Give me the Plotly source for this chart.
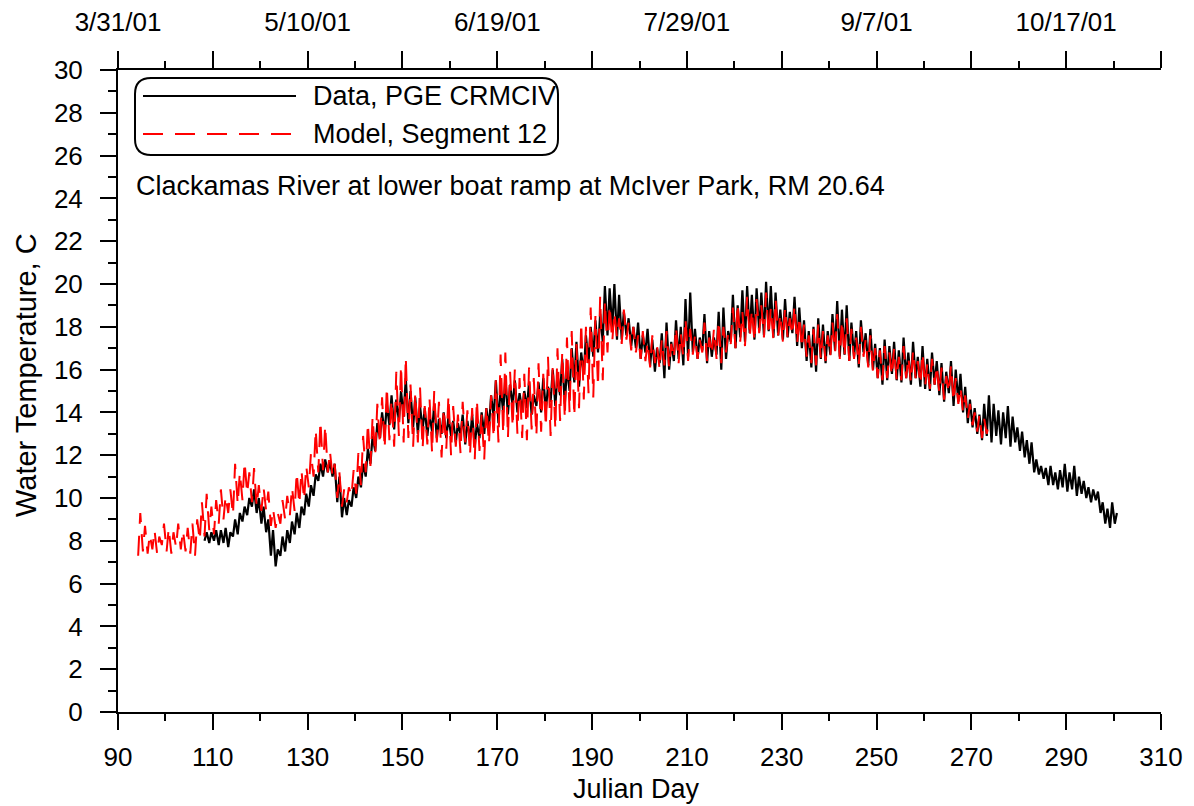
import plotly.graph_objects as go

data_days = list(range(108, 301))
data_min = [
    8.0, 7.9, 8.0, 7.8, 7.9, 7.7, 8.2, 8.3, 8.9, 9.2,            # 108-117
    9.6, 9.3, 8.8, 8.4, 7.3, 6.8, 7.3, 7.5, 7.9, 8.3,            # 118-127
    8.6, 9.2, 9.6, 10.1, 10.8, 11.0, 11.2, 11.0, 9.8, 9.1,       # 128-137
    9.2, 9.6, 10.0, 10.5, 11.0, 11.6, 12.2, 12.8, 13.0, 13.4,    # 138-147
    13.2, 13.6, 13.8, 13.5, 13.3, 13.0, 13.2, 12.9, 13.1, 12.8,  # 148-157
    13.0, 12.8, 12.9, 12.6, 12.9, 12.5, 12.7, 12.4, 12.8, 13.0,  # 158-167
    13.3, 13.8, 13.5, 14.0, 13.9, 14.3, 14.0, 14.1, 14.2, 13.9,  # 168-177
    14.3, 14.0, 14.1, 14.5, 14.3, 14.8, 14.4, 15.0, 15.4, 15.2,  # 178-187
    15.8, 16.3, 16.6, 16.8, 17.3, 17.6, 17.9, 17.4, 17.4, 17.6,  # 188-197
    17.1, 17.0, 16.5, 16.8, 16.2, 15.9, 16.3, 15.6, 16.0, 16.4,  # 198-207
    16.5, 16.2, 16.6, 16.8, 16.5, 16.9, 16.3, 16.6, 16.7, 16.0,  # 208-217
    16.5, 17.3, 17.0, 17.5, 17.3, 17.7, 17.4, 17.8, 17.6, 17.8,  # 218-227
    17.5, 17.6, 17.4, 17.5, 17.7, 17.1, 17.0, 16.4, 16.1, 15.9,  # 228-237
    16.5, 16.3, 16.7, 16.9, 16.6, 16.7, 16.4, 16.6, 16.1, 16.8,  # 238-247
    16.2, 16.0, 15.6, 15.3, 15.5, 15.8, 15.5, 15.4, 15.6, 15.3,  # 248-257
    15.6, 15.2, 15.1, 15.0, 15.3, 14.8, 14.5, 14.9, 14.3, 14.5,  # 258-267
    14.0, 13.5, 13.3, 13.0, 12.7, 12.9, 12.6, 12.9, 12.5, 12.8,  # 268-277
    12.4, 12.6, 12.2, 11.9, 11.6, 11.2, 11.1, 10.9, 10.6, 10.6,  # 278-287
    10.4, 10.5, 10.3, 10.4, 10.1, 10.2, 10.0, 9.8, 9.9, 9.3,     # 288-297
    8.8, 8.6, 8.8,                                               # 298-300
]
data_max = [
    8.4, 8.4, 8.5, 8.5, 8.6, 8.4, 9.0, 9.3, 9.6, 10.0,
    10.4, 10.0, 9.6, 9.0, 8.5, 7.6, 8.2, 8.5, 8.9, 9.3,
    9.6, 10.2, 10.6, 11.1, 11.6, 11.8, 11.7, 11.6, 11.0, 10.0,
    9.9, 10.5, 11.0, 11.6, 12.3, 12.9, 13.5, 14.0, 14.4, 14.8,
    14.6, 15.0, 15.6, 15.0, 14.7, 14.3, 14.2, 13.9, 14.4, 13.7,
    14.0, 13.8, 13.6, 13.5, 13.9, 13.6, 13.9, 13.5, 14.0, 14.2,
    14.8, 15.5, 15.2, 15.6, 15.3, 15.5, 14.9, 15.0, 15.4, 14.8,
    15.4, 15.6, 15.2, 16.0, 15.8, 16.5, 16.1, 17.0, 17.3, 16.8,
    17.6, 18.0, 18.3, 18.6, 19.9, 19.8, 20.0, 19.5, 18.7, 18.4,
    18.0, 18.2, 17.6, 17.9, 17.4, 17.0, 17.7, 18.2, 17.3, 18.3,
    18.0, 19.3, 19.6, 17.9, 17.5, 18.6, 17.8, 17.5, 18.7, 18.9,
    17.8, 19.5, 19.0, 19.7, 19.9, 19.5, 19.8, 19.6, 20.1, 19.9,
    19.6, 18.8, 19.3, 18.7, 19.4, 18.9, 18.3, 17.8, 18.0, 18.4,
    18.1, 17.8, 18.6, 19.2, 18.8, 19.0, 18.2, 17.8, 18.3, 17.7,
    17.9, 17.2, 17.0, 17.4, 17.1, 17.3, 16.9, 17.5, 16.8, 17.3,
    16.6, 17.1, 16.5, 16.8, 16.4, 16.3, 15.9, 16.4, 16.0, 15.8,
    15.2, 14.6, 14.2, 13.9, 14.4, 14.8, 14.4, 14.1, 14.0, 14.3,
    13.8, 13.3, 13.1, 12.7, 12.6, 11.8, 11.5, 11.4, 11.5, 11.2,
    11.3, 11.6, 11.2, 11.5, 11.0, 10.8, 10.5, 10.4, 10.3, 9.8,
    9.5, 9.8, 9.3,
]

# Model output, Segment 12, daily low / high
model_days = list(range(94, 274))
model_min = [
    7.3, 7.5, 7.4, 7.6, 7.4, 7.8, 7.5, 7.4, 7.7, 7.6,            # 94-103
    7.5, 7.4, 7.3, 8.0, 8.2, 8.5, 8.3, 8.8, 9.0, 9.3,            # 104-113
    9.2, 9.7, 9.9, 10.2, 9.8, 9.6, 9.4, 9.4, 8.7, 8.6,           # 114-123
    8.8, 9.0, 9.2, 9.4, 9.7, 9.9, 10.5, 11.0, 11.2, 11.3,        # 124-133
    11.2, 11.0, 10.0, 9.6, 9.8, 10.1, 10.2, 10.6, 11.2, 11.5,    # 134-143
    12.0, 12.5, 12.3, 12.7, 12.4, 12.9, 12.6, 12.8, 12.4, 12.6,  # 144-153
    12.3, 12.5, 12.1, 12.6, 11.9, 12.3, 12.0, 12.4, 12.1, 12.6,  # 154-163
    12.0, 11.8, 12.2, 11.8, 12.5, 12.8, 12.6, 13.0, 12.8, 13.3,  # 164-173
    13.0, 12.8, 12.7, 13.2, 12.9, 13.1, 13.3, 12.9, 13.2, 13.6,  # 174-183
    13.7, 14.0, 13.8, 14.2, 14.6, 14.9, 14.7, 15.2, 15.5, 16.8,  # 184-193
    17.3, 17.5, 17.2, 17.4, 16.9, 16.8, 16.5, 16.4, 16.1, 16.3,  # 194-203
    16.0, 16.2, 16.1, 16.5, 16.3, 16.6, 16.4, 16.7, 16.5, 16.8,  # 204-213
    16.4, 16.7, 16.5, 16.3, 16.8, 17.2, 17.0, 17.3, 17.1, 17.5,  # 214-223
    17.3, 17.7, 17.5, 17.6, 17.4, 17.6, 17.3, 17.5, 17.6, 17.2,  # 224-233
    17.0, 16.6, 16.3, 16.2, 16.5, 16.4, 16.6, 16.8, 16.5, 16.6,  # 234-243
    16.4, 16.5, 16.2, 16.6, 16.1, 15.9, 15.6, 15.5, 15.6, 15.7,  # 244-253
    15.5, 15.5, 15.6, 15.4, 15.6, 15.3, 15.2, 15.1, 15.3, 14.9,  # 254-263
    14.6, 14.9, 14.5, 14.4, 14.0, 13.7, 13.4, 13.1, 12.8, 13.0,  # 264-273
]
model_max = [
    9.3, 8.7, 8.3, 8.5, 8.2, 8.8, 8.6, 8.4, 8.8, 8.5,
    8.6, 8.8, 9.0, 9.8, 10.2, 9.6, 9.9, 10.4, 10.1, 10.4,
    11.6, 11.2, 11.7, 11.2, 11.4, 10.6, 10.5, 10.3, 9.5, 9.3,
    9.9, 10.1, 10.5, 11.2, 11.3, 11.5, 12.1, 13.2, 13.6, 13.4,
    12.2, 11.6, 11.2, 10.4, 10.5, 11.3, 12.1, 12.9, 13.5, 13.8,
    14.4, 14.7, 15.2, 14.6, 15.9, 16.2, 16.6, 15.3, 14.9, 15.2,
    14.3, 14.7, 15.0, 14.5, 14.2, 14.8, 14.3, 13.9, 14.5, 14.1,
    14.2, 14.6, 13.9, 14.3, 14.8, 15.5, 16.7, 16.8, 15.9, 16.0,
    15.6, 15.8, 16.1, 15.6, 16.3, 15.8, 16.6, 16.2, 17.0, 16.8,
    17.5, 17.8, 17.2, 18.2, 18.0, 18.9, 18.5, 19.4, 19.2, 19.0,
    18.7, 18.4, 18.8, 18.2, 18.0, 17.6, 17.8, 17.3, 17.6, 17.1,
    17.4, 17.8, 17.2, 18.0, 17.7, 18.4, 17.9, 17.6, 17.4, 18.2,
    17.5, 17.9, 18.3, 18.0, 17.7, 18.9, 19.1, 18.7, 19.4, 18.8,
    19.3, 19.0, 19.6, 18.9, 19.3, 18.6, 18.9, 18.4, 19.0, 18.5,
    18.1, 17.6, 17.9, 18.1, 17.8, 17.6, 18.2, 18.6, 18.3, 18.4,
    17.9, 17.5, 18.0, 17.4, 17.6, 17.0, 16.9, 17.1, 16.8, 17.0,
    16.6, 17.1, 16.6, 16.9, 16.4, 16.8, 16.3, 16.5, 16.2, 16.1,
    15.7, 16.2, 15.6, 15.2, 14.8, 14.4, 14.0, 13.9, 13.7, 13.5,
]

x_ticks = list(range(90, 311, 20))
y_ticks = list(range(0, 31, 2))
date_ticks = [90, 130, 170, 210, 250, 290]
date_labels = ["3/31/01", "5/10/01", "6/19/01", "7/29/01", "9/7/01", "10/17/01"]


def zigzag(days, lows, highs):
    # daily low in the early morning, high in the afternoon
    xs, ys = [], []
    for d, lo, hi in zip(days, lows, highs):
        xs += [d + 0.25, d + 0.7]
        ys += [lo, hi]
    return xs, ys


data_x, data_y = zigzag(data_days, data_min, data_max)
model_x, model_y = zigzag(model_days, model_min, model_max)

FONT = "Liberation Sans, Arial, sans-serif"
data_line = dict(color="black", width=2.2)
model_line = dict(color="#ff0000", width=2, dash="20px,12px")

fig = go.Figure()
fig.add_trace(go.Scatter(x=data_x, y=data_y, mode="lines", line=data_line,
                         name="Data, PGE CRMCIV", showlegend=False))
fig.add_trace(go.Scatter(x=model_x, y=model_y, mode="lines", line=model_line,
                         name="Model, Segment 12", showlegend=False))
# invisible copy so the top (date) axis gets drawn
fig.add_trace(go.Scatter(x=data_x, y=data_y, mode="lines", xaxis="x2",
                         line=dict(width=0), opacity=0, hoverinfo="skip",
                         showlegend=False))

axis_common = dict(showline=True, linecolor="black", linewidth=2, ticks="outside",
                   tickcolor="black", tickwidth=2, showgrid=False, zeroline=False,
                   automargin=False, tickfont=dict(size=26, color="black"))

# the page body adds an 8px margin, so the figure is 8px smaller than the window
fig.update_layout(
    width=1186, height=798,
    margin=dict(l=110, r=33, t=62, b=94),
    plot_bgcolor="white", paper_bgcolor="white",
    font=dict(family=FONT, size=26, color="black"),
    xaxis=dict(range=[90, 310], tickvals=x_ticks, ticklen=16,
               minor=dict(dtick=10, tick0=90, ticklen=7, ticks="outside",
                          tickcolor="black", tickwidth=2),
               ticklabelstandoff=5, **axis_common),
    xaxis2=dict(range=[90, 310], overlaying="x", side="top", anchor="y",
                tickvals=x_ticks,
                ticktext=[date_labels[date_ticks.index(v)] if v in date_ticks else ""
                          for v in x_ticks],
                ticklen=17,
                minor=dict(dtick=10, tick0=90, ticklen=7, ticks="outside",
                           tickcolor="black", tickwidth=2),
                ticklabelstandoff=10, **axis_common),
    yaxis=dict(range=[0, 30], tickvals=y_ticks, ticklen=16,
               minor=dict(dtick=1, tick0=0, ticklen=8, ticks="outside",
                          tickcolor="black", tickwidth=2),
               ticklabelstandoff=12, **axis_common),
)

# positions below are in pixels of the screenshot, converted to paper units
W, H = 1043.0, 642.0
def px(x):
    return (x - 118) / W
def py(y):
    return (712 - y) / H

# axis titles
fig.add_annotation(text="Julian Day", xref="paper", yref="paper",
                   x=px(636), y=py(789), xanchor="center", yanchor="middle",
                   showarrow=False, font=dict(size=27, color="black"))
fig.add_annotation(text="Water Temperature, C", xref="paper", yref="paper",
                   x=px(26), y=py(375), xanchor="center", yanchor="middle",
                   textangle=-90, showarrow=False, font=dict(size=29, color="black"))

# hand-drawn legend box with rounded corners
bx0, bx1, by0, by1, r = 135, 558, 78, 155, 16
path = (f"M {px(bx0 + r)} {py(by0)} L {px(bx1 - r)} {py(by0)} "
        f"Q {px(bx1)} {py(by0)} {px(bx1)} {py(by0 + r)} "
        f"L {px(bx1)} {py(by1 - r)} Q {px(bx1)} {py(by1)} {px(bx1 - r)} {py(by1)} "
        f"L {px(bx0 + r)} {py(by1)} Q {px(bx0)} {py(by1)} {px(bx0)} {py(by1 - r)} "
        f"L {px(bx0)} {py(by0 + r)} Q {px(bx0)} {py(by0)} {px(bx0 + r)} {py(by0)} Z")
fig.add_shape(type="path", path=path, xref="paper", yref="paper",
              line=dict(color="black", width=2), fillcolor="rgba(0,0,0,0)")

for ly, line, label in [(96, data_line, "Data, PGE CRMCIV"),
                        (134, model_line, "Model, Segment 12")]:
    fig.add_shape(type="line", xref="paper", yref="paper",
                  x0=px(143), x1=px(296), y0=py(ly), y1=py(ly), line=line)
    fig.add_annotation(text=label, xref="paper", yref="paper", x=px(311), y=py(ly),
                       xanchor="left", yanchor="middle", showarrow=False,
                       font=dict(size=27, color="black"))

fig.add_annotation(text="Clackamas River at lower boat ramp at McIver Park, RM 20.64",
                   xref="paper", yref="paper", x=px(134), y=py(186),
                   xanchor="left", yanchor="middle", showarrow=False,
                   font=dict(size=27, color="black"))

fig.write_html("out.html")
